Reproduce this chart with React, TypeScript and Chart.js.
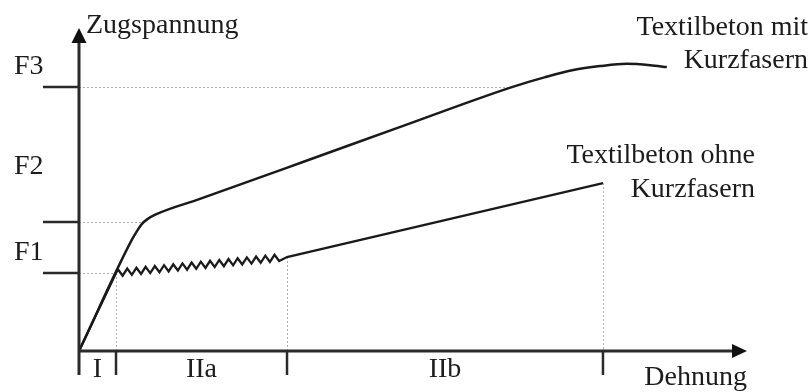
import React, { useEffect, useRef } from 'react';
import { Chart, registerables } from 'chart.js';

Chart.register(...registerables);

// Strain (Dehnung) / stress (Zugspannung) in arbitrary units 0..100
const strainWith = [0, 7.9, 8.7, 9.4, 10.3, 11.5, 18.1, 33.1, 48.0, 64.8, 69.8, 74.0, 78.0, 82.0, 85.5, 88.0];
const stressWith = [0, 34.4, 37.2, 39.3, 40.9, 42.3, 47.1, 58.2, 69.3, 81.7, 84.8, 87.0, 88.2, 88.9, 88.5, 87.9];

const strainWithout = [
  0, 5.54,
  5.84, 6.53, 7.22, 7.91, 8.6, 9.29, 9.97, 10.66, 11.35, 12.04,
  12.73, 13.42, 14.11, 14.8, 15.49, 16.18, 16.86, 17.55, 18.24, 18.93,
  19.62, 20.31, 21.0, 21.69, 22.38, 23.07, 23.75, 24.44, 25.13, 25.82,
  26.51, 27.2, 27.89, 28.58, 29.27, 29.96,
  31.14, 78.44,
];
const stressWithout = [
  0, 24.15,
  25.24, 23.31, 25.51, 23.58, 25.77, 23.85, 26.04, 24.12, 26.31, 24.38,
  26.58, 24.65, 26.84, 24.92, 27.11, 25.19, 27.38, 25.45, 27.65, 25.72,
  27.91, 25.99, 28.18, 26.25, 28.45, 26.52, 28.72, 26.79, 28.98, 27.06,
  29.25, 27.32, 29.52, 27.59, 29.79, 27.86,
  29.1, 52.01,
];

const stressLevels = [24.15, 39.94, 81.73];
const stressLevelEnds = [5.54, 9.3, 64.82];
const stressTickLabels = ['F1', 'F2', 'F3'];
const stressLabelAt = [31.0, 57.6, 88.5];

const stageBounds = [0, 5.54, 31.14, 78.44];
const stageTops = [0, 24.15, 29.1, 52.01];
const stageLabels = ['I', 'IIa', 'IIb'];

const seriesWithLines = ['Textilbeton mit', 'Kurzfasern'];
const seriesWithoutLines = ['Textilbeton ohne', 'Kurzfasern'];
const yAxisTitle = 'Zugspannung';
const xAxisTitle = 'Dehnung';

const FONT = '28px "Liberation Serif", "Times New Roman", serif';
const INK = '#1c1c1c';

const diagramPlugin = {
  id: 'diagram',
  beforeDatasetsDraw(chart: any) {
    const { ctx } = chart;
    const x = chart.scales.x;
    const y = chart.scales.y;
    ctx.save();
    ctx.strokeStyle = '#b0b0b0';
    ctx.lineWidth = 1;
    ctx.setLineDash([2, 2]);
    stressLevels.forEach((lv, i) => {
      const py = Math.round(y.getPixelForValue(lv)) + 0.5;
      ctx.beginPath();
      ctx.moveTo(x.getPixelForValue(0), py);
      ctx.lineTo(x.getPixelForValue(stressLevelEnds[i]), py);
      ctx.stroke();
    });
    for (let i = 1; i < stageBounds.length; i++) {
      const px = Math.round(x.getPixelForValue(stageBounds[i])) + 0.5;
      ctx.beginPath();
      ctx.moveTo(px, y.getPixelForValue(stageTops[i]));
      ctx.lineTo(px, y.getPixelForValue(0));
      ctx.stroke();
    }
    ctx.restore();
  },
  afterDatasetsDraw(chart: any) {
    const { ctx, chartArea } = chart;
    const x = chart.scales.x;
    const y = chart.scales.y;
    const x0 = x.getPixelForValue(0);
    const y0 = y.getPixelForValue(0);
    const top = chartArea.top;
    const right = chartArea.right;
    ctx.save();
    ctx.setLineDash([]);
    ctx.strokeStyle = '#2a2a2a';
    ctx.fillStyle = '#111';
    ctx.lineWidth = 3;
    // y axis
    ctx.beginPath();
    ctx.moveTo(x0, y0 + 24);
    ctx.lineTo(x0, top + 12);
    ctx.stroke();
    ctx.beginPath();
    ctx.moveTo(x0, top);
    ctx.lineTo(x0 - 7.5, top + 15);
    ctx.lineTo(x0 + 7.5, top + 15);
    ctx.closePath();
    ctx.fill();
    // x axis
    ctx.beginPath();
    ctx.moveTo(x0, y0);
    ctx.lineTo(right - 12, y0);
    ctx.stroke();
    ctx.beginPath();
    ctx.moveTo(right, y0);
    ctx.lineTo(right - 15, y0 - 7);
    ctx.lineTo(right - 15, y0 + 7);
    ctx.closePath();
    ctx.fill();
    // y ticks
    ctx.lineWidth = 2.5;
    stressLevels.forEach((lv) => {
      const py = y.getPixelForValue(lv);
      ctx.beginPath();
      ctx.moveTo(x0 - 36, py);
      ctx.lineTo(x0, py);
      ctx.stroke();
    });
    // x ticks
    for (let i = 1; i < stageBounds.length; i++) {
      const px = x.getPixelForValue(stageBounds[i]);
      ctx.beginPath();
      ctx.moveTo(px, y0);
      ctx.lineTo(px, y0 + 24);
      ctx.stroke();
    }
    // texts
    ctx.font = FONT;
    ctx.fillStyle = INK;
    ctx.textBaseline = 'alphabetic';
    ctx.textAlign = 'left';
    ctx.fillText(yAxisTitle, x0 + 7, top + 5);
    stressTickLabels.forEach((t, i) => {
      ctx.fillText(t, 14, y.getPixelForValue(stressLabelAt[i]) + 9);
    });
    ctx.textAlign = 'center';
    stageLabels.forEach((t, i) => {
      const cx = (x.getPixelForValue(stageBounds[i]) + x.getPixelForValue(stageBounds[i + 1])) / 2;
      ctx.fillText(t, cx, y0 + 26);
    });
    ctx.textAlign = 'right';
    ctx.fillText(xAxisTitle, right, y0 + 34);
    ctx.fillText(seriesWithLines[0], 808, 35);
    ctx.fillText(seriesWithLines[1], 808, 68);
    ctx.fillText(seriesWithoutLines[0], 755, 163);
    ctx.fillText(seriesWithoutLines[1], 755, 197);
    ctx.restore();
  },
};

export default function App() {
  const ref = useRef<HTMLCanvasElement | null>(null);
  useEffect(() => {
    if (!ref.current) return;
    const chart = new Chart(ref.current, {
      type: 'line',
      data: {
        datasets: [
          {
            label: seriesWithLines.join(' '),
            data: strainWith.map((v, i) => ({ x: v, y: stressWith[i] })),
            borderColor: '#1a1a1a',
            borderWidth: 2.5,
            pointRadius: 0,
            cubicInterpolationMode: 'monotone',
            fill: false,
          },
          {
            label: seriesWithoutLines.join(' '),
            data: strainWithout.map((v, i) => ({ x: v, y: stressWithout[i] })),
            borderColor: '#1a1a1a',
            borderWidth: 2.3,
            pointRadius: 0,
            tension: 0,
            fill: false,
          },
        ],
      },
      options: {
        animation: false,
        responsive: false,
        maintainAspectRatio: false,
        layout: { padding: { left: 79, right: 65, top: 28, bottom: 41 } },
        scales: {
          x: { type: 'linear', min: 0, max: 100, display: false },
          y: { type: 'linear', min: 0, max: 100, display: false },
        },
        plugins: {
          legend: { display: false },
          tooltip: { enabled: false },
        },
      },
      plugins: [diagramPlugin],
    } as any);
    return () => chart.destroy();
  }, []);
  return (
    <div style={{ position: 'fixed', left: 0, top: 0, width: 812, height: 392, background: '#fff' }}>
      <canvas ref={ref} width={812} height={392} style={{ display: 'block' }} />
    </div>
  );
}
